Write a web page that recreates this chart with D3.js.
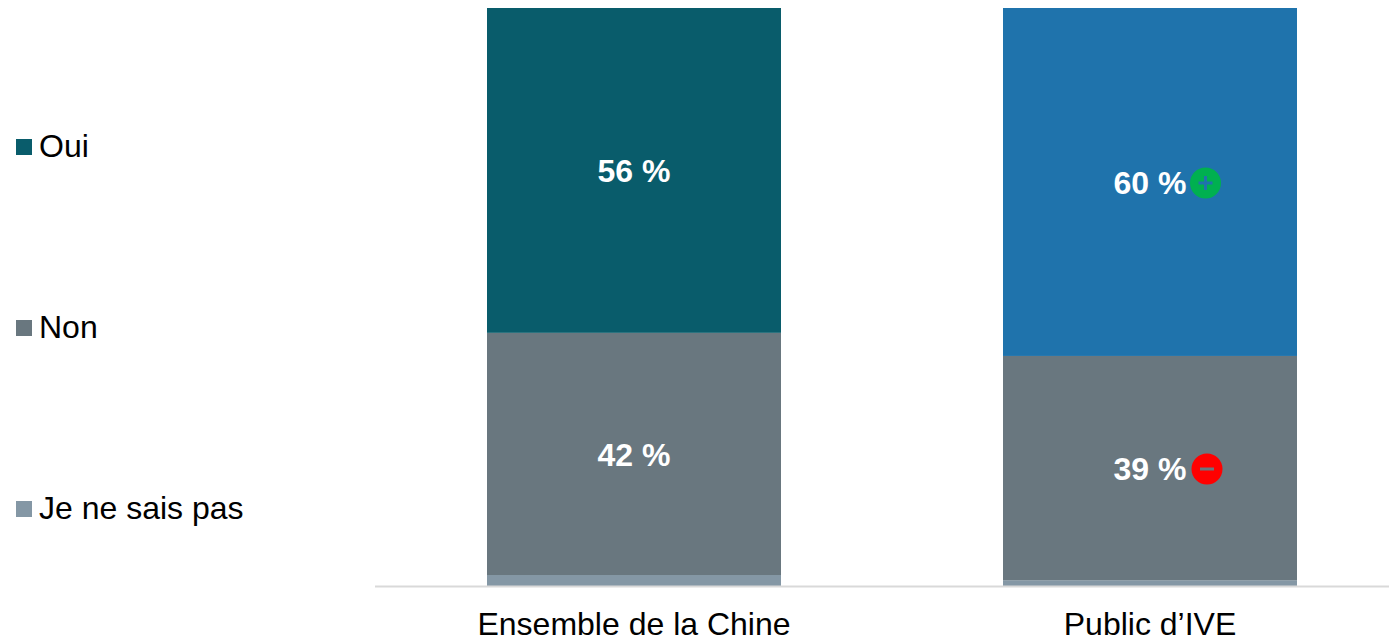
<!DOCTYPE html>
<html><head><meta charset="utf-8">
<script src="https://cdn.jsdelivr.net/npm/d3@7/dist/d3.min.js"></script>
<style>html,body{margin:0;padding:0;background:#fff}svg{display:block}text{font-family:"Liberation Sans",Arial,sans-serif}</style>
</head><body><div id="c"></div>
<script>
const categories = ["Ensemble de la Chine", "Public d’IVE"];
const jeNeSaisPas = [1.9, 1.0];
const non = [41.9, 38.8];
const oui = [56.2, 60.2];
const labelsNon = ["42 %", "39 %"];
const labelsOui = ["56 %", "60 %"];
const ouiColors = ["#095c6b", "#1f73ac"];
const legendNames = ["Oui", "Non", "Je ne sais pas"];
const legendColors = ["#095c6b", "#69777f", "#8497a5"];

const W = 1389, H = 640;
const svg = d3.select("#c").append("svg").attr("width", W).attr("height", H);
const barX = d3.scaleOrdinal().domain(categories).range([487, 1003]);
const barW = 294;
const y = d3.scaleLinear().domain([0, 100]).range([586, 8]);

const rows = categories.map((c, i) => {
  let acc = 0;
  return [[jeNeSaisPas[i], legendColors[2]], [non[i], legendColors[1]], [oui[i], ouiColors[i]]].map(([v, col]) => {
    const r = {c, y0: acc, y1: acc + v, col}; acc += v; return r;
  });
}).flat();

svg.append("g").selectAll("rect").data(rows).join("rect")
  .attr("x", d => barX(d.c)).attr("width", barW)
  .attr("y", d => y(d.y1)).attr("height", d => y(d.y0) - y(d.y1))
  .attr("fill", d => d.col);

svg.append("line").attr("x1", 375).attr("x2", W).attr("y1", 586.5).attr("y2", 586.5)
  .attr("stroke", "#d9d9d9").attr("stroke-width", 2);

const cx = c => barX(c) + barW / 2;
svg.append("g").selectAll("text").data(categories).join("text")
  .attr("x", cx).attr("y", 635).attr("text-anchor", "middle")
  .attr("font-size", 32).attr("fill", "#000").text(d => d);

// data labels
const lbl = [];
categories.forEach((c, i) => {
  lbl.push({t: labelsOui[i], x: cx(c), y: i === 0 ? 182 : 194});
  lbl.push({t: labelsNon[i], x: cx(c), y: i === 0 ? 466 : 480});
});
svg.append("g").selectAll("text").data(lbl).join("text")
  .attr("x", d => d.x).attr("y", d => d.y).attr("text-anchor", "middle")
  .attr("font-size", 32).attr("font-weight", "bold").attr("fill", "#fff").text(d => d.t);

// significance badges
const badges = [{cx: 1205.5, cy: 183, col: "#00b050", plus: true, bar: "#1f73ac"}, {cx: 1207, cy: 469, col: "#ff0000", plus: false, bar: "#69777f"}];
const bg = svg.append("g").selectAll("g").data(badges).join("g").attr("transform", d => `translate(${d.cx},${d.cy})`);
bg.append("circle").attr("r", 15.5).attr("fill", d => d.col);
bg.append("rect").attr("x", -7).attr("y", -1.5).attr("width", 14).attr("height", 3).attr("fill", d => d.bar);
bg.filter(d => d.plus).append("rect").attr("x", -1.5).attr("y", -7).attr("width", 3).attr("height", 14).attr("fill", d => d.bar);

// legend
const legendY = d3.scalePoint().domain(legendNames).range([147, 509]);
const lg = svg.append("g").selectAll("g").data(legendNames).join("g");
lg.append("rect").attr("x", 16).attr("width", 16).attr("height", 16)
  .attr("y", d => legendY(d) - 8).attr("fill", (d, i) => legendColors[i]);
lg.append("text").attr("x", 39).attr("y", d => legendY(d) + 10)
  .attr("font-size", 32).attr("fill", "#000").text(d => d);
</script></body></html>
